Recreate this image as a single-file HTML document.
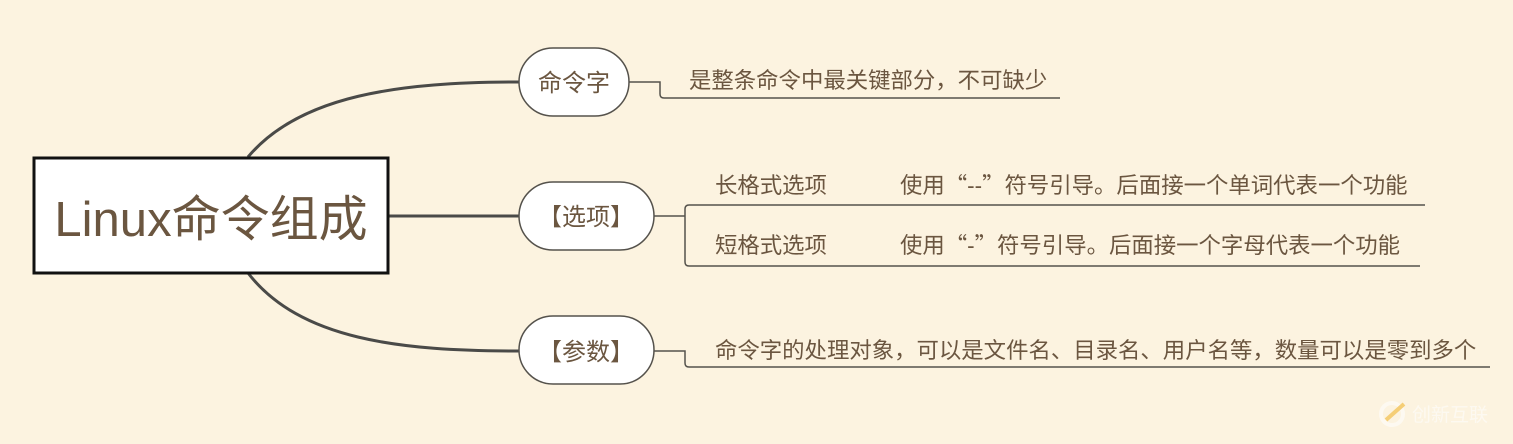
<!DOCTYPE html>
<html><head><meta charset="utf-8"><style>
body{margin:0;width:1513px;height:444px;background:#fcf3e0;overflow:hidden;font-family:"Liberation Sans","Noto Sans CJK SC",sans-serif}
svg{position:absolute;left:0;top:0}
</style></head><body>
<svg width="1513" height="444" xmlns="http://www.w3.org/2000/svg">
<g fill="none" stroke="#4a4a48" stroke-width="3">
<path d="M248,157 C300,95 400,82 519,82"/>
<path d="M248,273 C300,340 400,351 519,351"/>
<path d="M388,216 L519,216"/>
</g>
<g fill="none" stroke="#55524c" stroke-width="1.5">
<path d="M629,82 L660,82 L660,94 Q660,98 664,98 L1060,98"/>
<path d="M654,216 L685,216"/>
<path d="M841,205 L689,205 Q685,205 685,209 L685,262 Q685,266 689,266 L1420,266"/>
<path d="M841,205 L1425,205"/>
<path d="M654,351 L685,351 L685,363 Q685,367 689,367 L1490,367"/>
</g>
<rect x="34" y="158" width="354" height="115" fill="#fff" stroke="#111" stroke-width="3"/>
<text x="211" y="236" text-anchor="middle" font-size="49" fill="#6b5640" font-family="Liberation Sans,Noto Sans CJK SC,sans-serif">Linux命令组成</text>
<g fill="#fff" stroke="#55524c" stroke-width="1.5">
<rect x="519" y="48" width="110" height="68" rx="34"/>
<rect x="519" y="182" width="135" height="68" rx="34"/>
<rect x="519" y="316" width="135" height="68" rx="34"/>
</g>
<g font-size="24" fill="#6b5640" text-anchor="middle" font-family="Liberation Sans,Noto Sans CJK SC,sans-serif">
<text x="574" y="91">命令字</text>
<text x="586" y="225">【选项】</text>
<text x="586" y="360">【参数】</text>
</g>
<g font-size="22.4" fill="#6b5640" font-family="Noto Sans CJK SC,sans-serif">
<text x="689" y="88">是整条命令中最关键部分，不可缺少</text>
<text x="715" y="193">长格式选项</text>
<text x="900" y="193">使用“<tspan font-family="Liberation Sans">--</tspan>”符号引导。后面接一个单词代表一个功能</text>
<text x="715" y="253">短格式选项</text>
<text x="900" y="253">使用“<tspan font-family="Liberation Sans">-</tspan>”符号引导。后面接一个字母代表一个功能</text>
<text x="715" y="358">命令字的处理对象，可以是文件名、目录名、用户名等，数量可以是零到多个</text>
</g>
<g opacity="0.55">
<circle cx="1392" cy="414" r="11" fill="none" stroke="#fff" stroke-width="4"/>
<path d="M1386,420 L1404,404" stroke="#f0b020" stroke-width="4"/>
<text x="1412" y="421" font-size="19" fill="#fff" font-family="Liberation Sans,Noto Sans CJK SC,sans-serif">创新互联</text>
</g>
</svg>
</body></html>
